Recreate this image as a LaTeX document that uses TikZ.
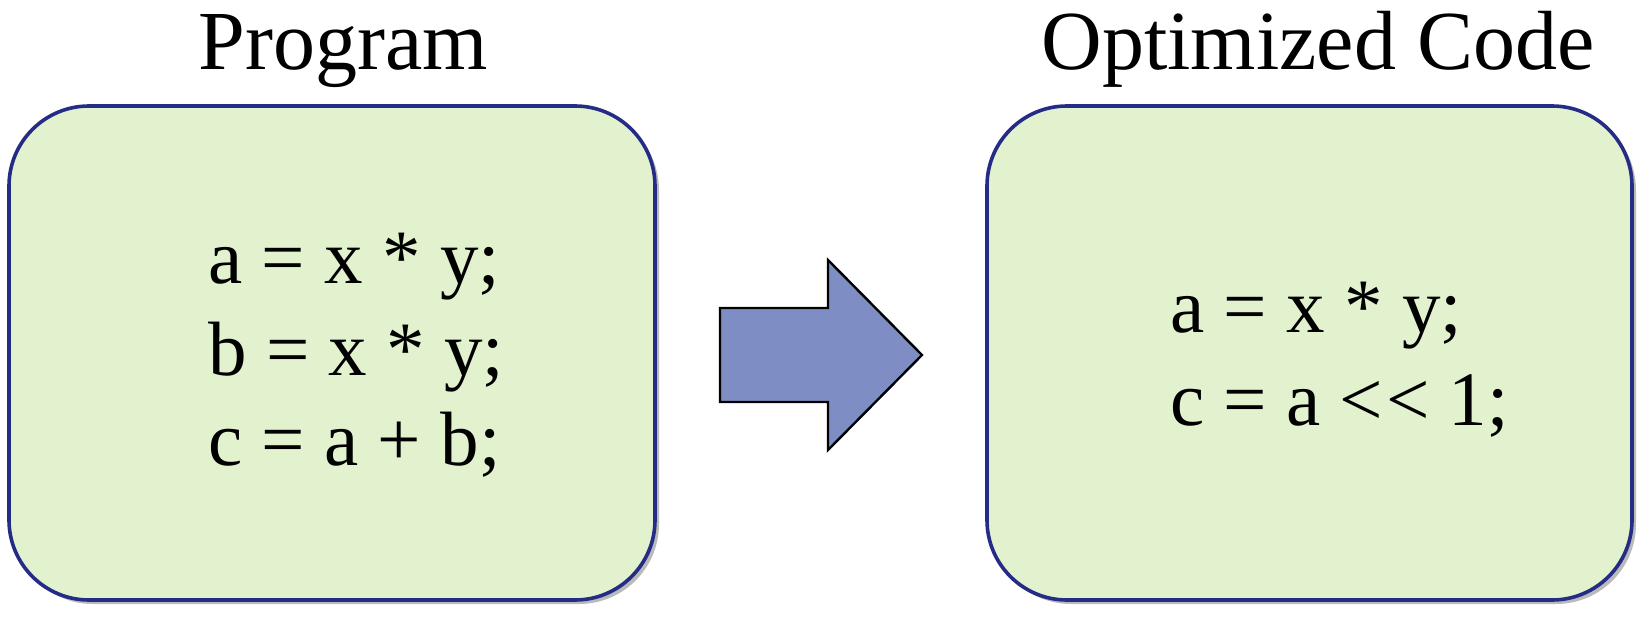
\documentclass[tikz,border=0pt]{standalone}
\usepackage{fontspec}
\setmainfont{Liberation Serif}
\usetikzlibrary{shadows}
\definecolor{boxfill}{HTML}{E2F2CF}
\definecolor{boxline}{HTML}{252C85}
\definecolor{arrowfill}{HTML}{7E8EC4}
\begin{document}
\begin{tikzpicture}[x=0.5pt,y=-0.5pt,
  codebox/.style={draw=boxline, line width=1.8pt, fill=boxfill, rounded corners=40pt,
    drop shadow={shadow xshift=2pt, shadow yshift=-2pt, fill=black!45, opacity=0.6}},
  title/.style={font=\fontsize{42}{50}\selectfont, anchor=base, inner sep=0pt},
  code/.style={font=\fontsize{38.5}{45}\selectfont, anchor=base west, inner sep=0pt},
  bigarrow/.style={draw=black, line width=1.2pt, fill=arrowfill, line join=miter}]
\useasboundingbox (0,0) rectangle (1651,621);
% boxes
\path[codebox] (9,106) rectangle (655,600);
\path[codebox] (987,106) rectangle (1632,600);
% titles
\node[title] (t1) at (343,69) {Program};
\node[title] (t2) at (1318,69) {Optimized Code};
% left code
\node[code] (l1) at (208,283) {a = x * y;};
\node[code] (l2) at (208,375) {b = x * y;};
\node[code] (l3) at (208,465) {c = a + b;};
% right code
\node[code] (r1) at (1170,332) {a = x * y;};
\node[code] (r2) at (1170,425) {c = a {<}\kern1.5pt{<} 1;};
% arrow
\draw[bigarrow] (720,308) -- (828,308) -- (828,260) -- (922,355) -- (828,450) -- (828,402) -- (720,402) -- cycle;
\end{tikzpicture}
\end{document}
